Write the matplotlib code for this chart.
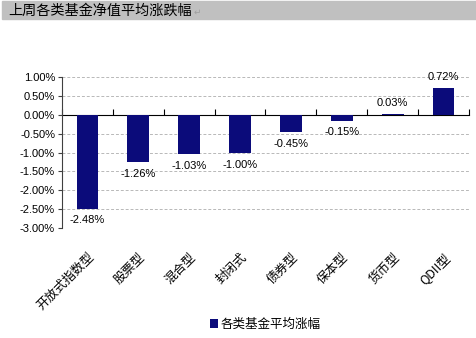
import matplotlib
matplotlib.use("Agg")
import matplotlib.pyplot as plt
from matplotlib.patches import Rectangle
from matplotlib.ticker import FuncFormatter, MultipleLocator
import numpy as np

plt.rcParams['font.family'] = ['Liberation Sans', 'Noto Sans CJK SC', 'DejaVu Sans']

categories = ["开放式指数型", "股票型", "混合型", "封闭式", "债券型", "保本型", "货币型", "QDII型"]
changes = [-2.48, -1.26, -1.03, -1.00, -0.45, -0.15, 0.03, 0.72]
title = "上周各类基金净值平均涨跌幅"
series_name = "各类基金平均涨幅"

navy = "#0b0b7a"

fig = plt.figure(figsize=(4.77, 3.38), dpi=100)
ax = fig.add_axes([0.13, 0.325, 0.853, 0.447])

# grey title bar
fig.add_artist(Rectangle((0.004, 1 - 19 / 338), 0.996, 18 / 338,
                         transform=fig.transFigure, color="#c0c0c0", zorder=0))
t = fig.text(0.017, 1 - 10.5 / 338, title, fontsize=10.2, va="center",
             family=['Noto Sans CJK SC', 'DejaVu Sans'])
fig.canvas.draw()
bb = t.get_window_extent().transformed(fig.transFigure.inverted())
fig.text(bb.x1 + 0.003, 1 - 12 / 338, "↵", fontsize=6.5, va="center", color="#a0a0a0",
         family=['DejaVu Sans'])

x = np.arange(len(categories))
bars = ax.bar(x, changes, width=0.43, color=navy, zorder=3, label=series_name)

for xi, v in zip(x, changes):
    if v < 0:
        ax.annotate(f"{v:.2f}%", (xi, v), xytext=(0, -5), textcoords="offset points",
                    ha="center", va="top", fontsize=8)
    else:
        ax.annotate(f"{v:.2f}%", (xi, v), xytext=(0, 4), textcoords="offset points",
                    ha="center", va="bottom", fontsize=8)

ax.set_xlim(-0.5, len(categories) - 0.5)
ax.set_ylim(-3, 1)
ax.yaxis.set_major_locator(MultipleLocator(0.5))
ax.yaxis.set_major_formatter(FuncFormatter(lambda v, p: f"{v:.2f}%"))
ax.tick_params(axis="y", labelsize=8, length=3, direction="out", color="#404040", pad=2)

for s in ["top", "right", "bottom"]:
    ax.spines[s].set_visible(False)
ax.spines["left"].set_color("#404040")

ax.set_xticks(x)
ax.set_xticklabels(categories, rotation=45, ha="right", rotation_mode="anchor",
                   fontsize=9, family=['Noto Sans CJK SC', 'DejaVu Sans'])
ax.tick_params(axis="x", length=0, pad=16)

for v in np.arange(-2.5, 1.01, 0.5):
    if abs(v) > 1e-9:
        ax.axhline(v, color="#b8b8b8", lw=0.7, ls=(0, (3, 2)), zorder=1)

# zero line with category boundary ticks
sec = ax.secondary_xaxis(0, transform=ax.transData)
sec.set_xticks(np.arange(-0.5, len(categories)), labels=[])
sec.tick_params(axis="x", direction="in", length=4, color="black")
sec.spines["bottom"].set_color("black")
sec.spines["top"].set_color("black")

fig.legend(handles=[bars], labels=[series_name], loc="center",
           bbox_to_anchor=(0.556, 0.041), frameon=False,
           handlelength=0.6, handleheight=0.8, handletextpad=0.2,
           prop={'family': ['Noto Sans CJK SC', 'DejaVu Sans'], 'size': 9})

fig.savefig("out.png", dpi=100)
